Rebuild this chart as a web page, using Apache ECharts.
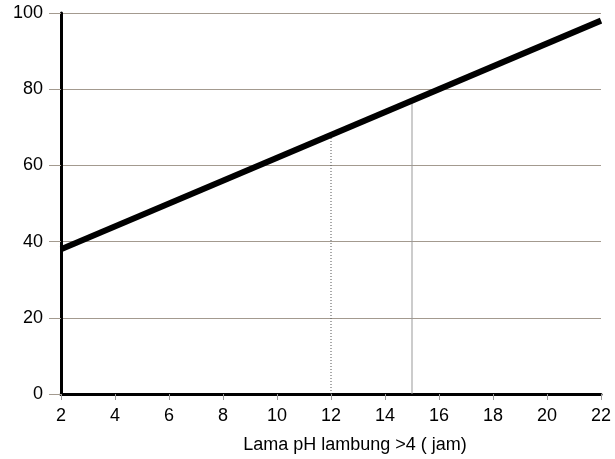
<!DOCTYPE html>
<html><head><meta charset="utf-8">
<script src="https://cdn.jsdelivr.net/npm/echarts@6/dist/echarts.min.js"></script>
<style>html,body{margin:0;padding:0;background:#fff}#c{width:615px;height:459px}</style>
</head><body><div id="c"></div>
<script>
const xLine = [2, 22];
const yLine = [38, 98];
const dropX1 = 12, dropY1 = 68;
const dropX2 = 15, dropY2 = 77;
const xTicks = [2,4,6,8,10,12,14,16,18,20,22];
const yTicks = [0,20,40,60,80,100];
const xTitle = 'Lama pH lambung >4 ( jam)';

const chart = echarts.init(document.getElementById('c'));
const font = 'Liberation Sans, Arial, sans-serif';
chart.setOption({
  animation: false,
  grid: {left: 61, right: 14, top: 13, bottom: 62},
  xAxis: {
    type: 'value', min: 2, max: 22, interval: 2,
    name: xTitle, nameLocation: 'middle', nameGap: 42,
    nameTextStyle: {fontFamily: font, fontSize: 18, color: '#000', padding: [0, 0, 0, 48]},
    axisLine: {onZero: false, lineStyle: {color: '#000', width: 3}},
    axisTick: {show: true, length: 6, lineStyle: {color: '#999'}},
    axisLabel: {fontFamily: font, fontSize: 18, color: '#000', margin: 13},
    splitLine: {show: false}
  },
  yAxis: {
    type: 'value', min: 0, max: 100, interval: 20,
    axisLine: {show: true, lineStyle: {color: '#000', width: 3}},
    axisTick: {show: true, length: 12, lineStyle: {color: '#a39a8f'}},
    axisLabel: {fontFamily: font, fontSize: 18, color: '#000', margin: 18},
    splitLine: {show: true, lineStyle: {color: '#a39a8f', width: 1}}
  },
  series: [
    {type: 'line', data: [[dropX1, 0], [dropX1, dropY1]], symbol: 'none',
     lineStyle: {color: '#555', width: 1, type: [1, 2]}, z: 1},
    {type: 'line', data: [[dropX2, 0], [dropX2, dropY2]], symbol: 'none',
     lineStyle: {color: '#999', width: 1}, z: 1},
    {type: 'line', data: xLine.map((x, i) => [x, yLine[i]]), symbol: 'none',
     lineStyle: {color: '#000', width: 6}, z: 3}
  ]
});
</script></body></html>
